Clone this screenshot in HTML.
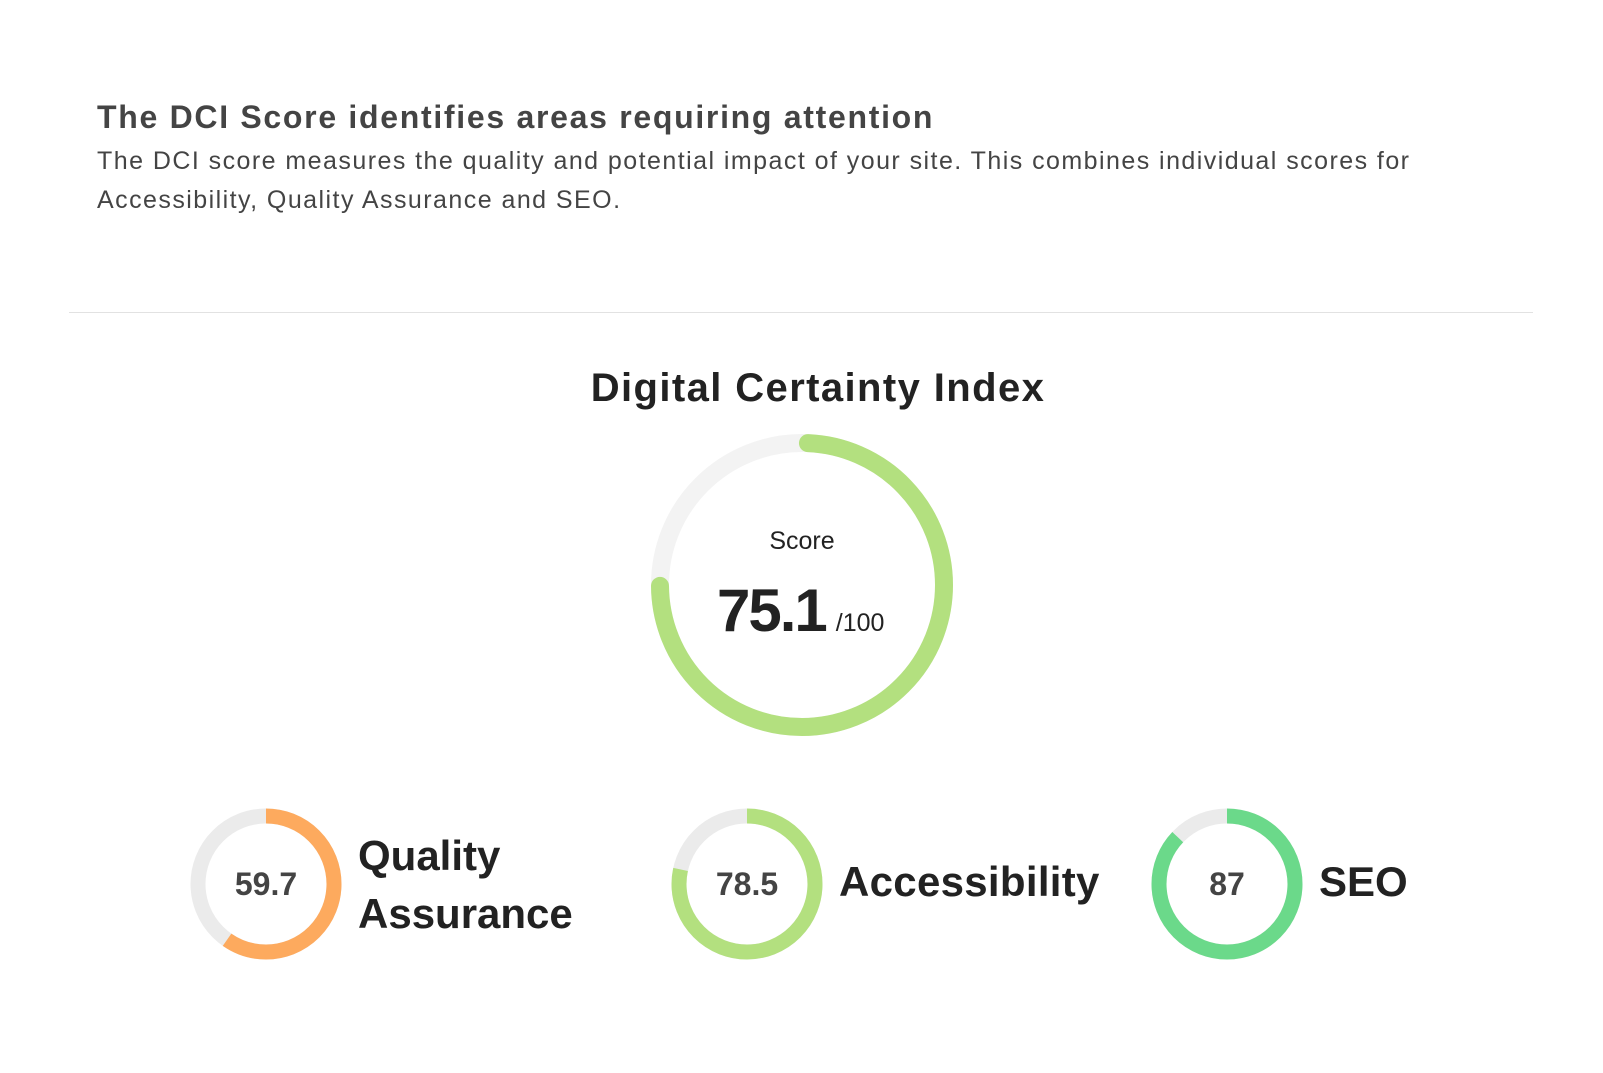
<!DOCTYPE html>
<html><head><meta charset="utf-8"><style>
html,body{margin:0;padding:0;background:#fff;width:1603px;height:1073px;overflow:hidden;font-family:"Liberation Sans",sans-serif}
.t{position:absolute;white-space:nowrap}
</style></head><body>
<div class="t" style="left:97px;top:99px;font-size:32px;font-weight:bold;color:#444;letter-spacing:1.7px">The DCI Score identifies areas requiring attention</div>
<div class="t" style="left:97px;top:142px;font-size:25px;color:#444;line-height:39px;letter-spacing:1.45px">The DCI score measures the quality and potential impact of your site. This combines individual scores for<br>Accessibility, Quality Assurance and SEO.</div>
<div style="position:absolute;left:69px;top:312px;width:1464px;height:1px;background:#e2e2e2"></div>
<div class="t" style="left:418px;width:800px;text-align:center;top:366px;font-size:40px;font-weight:bold;color:#222;letter-spacing:1.4px">Digital Certainty Index</div>
<svg width="1603" height="1073" style="position:absolute;left:0;top:0">
<g transform="rotate(-90 802 585)" fill="none">
<circle cx="802" cy="585" r="142" stroke="#f3f3f3" stroke-width="18"/>
<circle cx="802" cy="585" r="142" stroke="#b3e07f" stroke-width="18" stroke-linecap="round" stroke-dasharray="662 1000" stroke-dashoffset="-6"/>
</g>
<g fill="none" stroke-width="15">
<g transform="rotate(-90 266 884)"><circle cx="266" cy="884" r="68" stroke="#ebebeb"/><circle cx="266" cy="884" r="68" stroke="#fdaa5e" stroke-dasharray="255 1000"/></g>
<g transform="rotate(-90 747 884)"><circle cx="747" cy="884" r="68" stroke="#ebebeb"/><circle cx="747" cy="884" r="68" stroke="#b3e07f" stroke-dasharray="335 1000"/></g>
<g transform="rotate(-90 1227 884)"><circle cx="1227" cy="884" r="68" stroke="#ebebeb"/><circle cx="1227" cy="884" r="68" stroke="#6bd98a" stroke-dasharray="372 1000"/></g>
</g>
</svg>
<div class="t" style="left:702px;width:200px;text-align:center;top:527px;font-size:25px;color:#222">Score</div>
<div class="t" style="left:717px;top:576px;font-size:60px;font-weight:bold;color:#222;letter-spacing:-2px">75.1<span style="font-size:25px;font-weight:normal;letter-spacing:0;margin-left:10px">/100</span></div>
<div class="t" style="left:216px;width:100px;text-align:center;top:866px;font-size:32px;font-weight:bold;color:#444">59.7</div>
<div class="t" style="left:697px;width:100px;text-align:center;top:866px;font-size:32px;font-weight:bold;color:#444">78.5</div>
<div class="t" style="left:1177px;width:100px;text-align:center;top:866px;font-size:32px;font-weight:bold;color:#444">87</div>
<div class="t" style="left:358px;top:827px;font-size:42px;font-weight:bold;color:#222;line-height:58px">Quality<br>Assurance</div>
<div class="t" style="left:839px;top:858px;font-size:42px;font-weight:bold;color:#222;letter-spacing:0.3px">Accessibility</div>
<div class="t" style="left:1319px;top:858px;font-size:42px;font-weight:bold;color:#222">SEO</div>
</body></html>
